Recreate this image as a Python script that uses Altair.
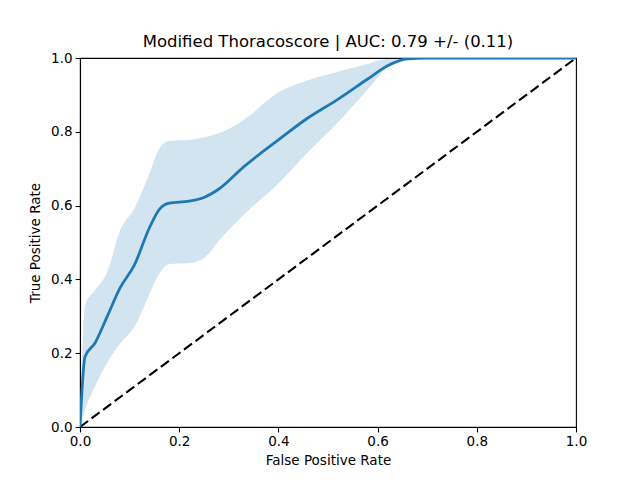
import altair as alt
import pandas as pd

fpr = [0, 0.01, 0.03, 0.055, 0.08, 0.11, 0.14, 0.16, 0.18, 0.22, 0.25, 0.28, 0.33,
       0.40, 0.46, 0.52, 0.58, 0.62, 0.66, 0.70, 0.80, 0.90, 1.0]
tpr_mean = [0, 0.19, 0.227, 0.30, 0.375, 0.44, 0.54, 0.59, 0.607, 0.612, 0.622, 0.645, 0.705,
            0.778, 0.838, 0.888, 0.943, 0.979, 0.998, 1, 1, 1, 1]
tpr_upper = [0, 0.33, 0.37, 0.42, 0.53, 0.593, 0.687, 0.755, 0.776, 0.778, 0.785, 0.796, 0.832,
             0.907, 0.94, 0.963, 0.984, 0.998, 1, 1, 1, 1, 1]
tpr_lower = [0, 0.046, 0.11, 0.175, 0.225, 0.272, 0.36, 0.416, 0.442, 0.444, 0.458, 0.505, 0.575,
             0.66, 0.745, 0.825, 0.915, 0.975, 0.998, 1, 1, 1, 1]
chance_x = [0, 1]
chance_y = [0, 1]

df = pd.DataFrame({"fpr": fpr, "mean": tpr_mean, "lo": tpr_lower, "hi": tpr_upper})
diag = pd.DataFrame({"x": chance_x, "y": chance_y})

xs = alt.Scale(domain=[0, 1], nice=False)
ys = alt.Scale(domain=[0, 1], nice=False)

xax = alt.Axis(title="False Positive Rate", values=[0, 0.2, 0.4, 0.6, 0.8, 1.0], format=".1f",
               labelFlush=False)
yax = alt.Axis(title="True Positive Rate", values=[0, 0.2, 0.4, 0.6, 0.8, 1.0], format=".1f",
               labelFlush=False)

band = alt.Chart(df).mark_area(color="#1f77b4", opacity=0.2, interpolate="monotone", clip=True).encode(
    x=alt.X("fpr:Q", scale=xs, axis=xax),
    y=alt.Y("lo:Q", scale=ys, axis=yax),
    y2="hi:Q",
)
line = alt.Chart(df).mark_line(color="#1f77b4", strokeWidth=2.8, interpolate="monotone", clip=True).encode(
    x=alt.X("fpr:Q", scale=xs),
    y=alt.Y("mean:Q", scale=ys),
)
chance = alt.Chart(diag).mark_line(color="black", strokeWidth=2.1, strokeDash=[10, 4.4], clip=True).encode(
    x=alt.X("x:Q", scale=xs),
    y=alt.Y("y:Q", scale=ys),
)

chart = alt.layer(band, chance, line).properties(
    width=496, height=369,
    title=alt.TitleParams("Modified Thoracoscore | AUC: 0.79 +/- (0.11)", fontSize=16.5,
                          font="DejaVu Sans", fontWeight="normal", color="black", offset=1),
    autosize=alt.AutoSizeParams(type="none"),
    padding={"left": 72, "top": 50, "right": 56, "bottom": 45},
).configure_view(stroke="black", strokeWidth=1.1).configure_axis(
    grid=False, domainColor="black", domainWidth=1.1, tickColor="black", tickWidth=1.1, tickSize=4.9,
    labelFont="DejaVu Sans", labelFontSize=13.5, labelColor="black", labelPadding=3,
    titleFont="DejaVu Sans", titleFontSize=13.5, titleFontWeight="normal", titleColor="black",
).configure_axisX(titlePadding=5).configure_axisY(titlePadding=8)

chart.save("out.html", embed_options={"renderer": "svg", "actions": False})
